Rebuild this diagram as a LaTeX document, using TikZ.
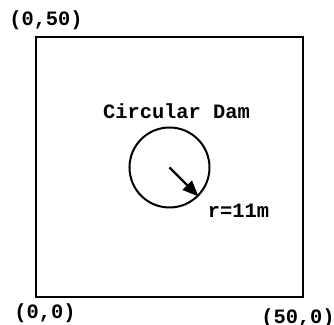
\documentclass[tikz,border=0pt]{standalone}
\usepackage{fontspec}
\setmonofont{Liberation Mono}
\usepackage{tikz}
\usetikzlibrary{positioning,arrows.meta}
\tikzset{
  site/.style={draw, rectangle, line width=1pt, minimum width=133.5pt, minimum height=130pt, inner sep=0pt},
  dam/.style={draw, circle, line width=1pt, minimum size=40pt, inner sep=0pt},
  maplabel/.style={font=\ttfamily\bfseries\fontsize{10.2}{12}\selectfont, inner sep=0pt},
  radius arrow/.style={-{Triangle[length=8pt,width=6.5pt]}, line width=1.1pt}
}

\begin{document}
\begin{tikzpicture}[x=0.5pt, y=-0.5pt]
  \useasboundingbox (0,0) rectangle (334,325);
  \node[site] (site) at (169.5,167) {};
  \node[dam] (dam) at (169.5,167.5) {};

  \node[maplabel] (topleft) at (46,20) {(0,50)};
  \node[maplabel] (origin) at (45,313) {(0,0)};
  \node[maplabel] (bottomright) at (298,318) {(50,0)};
  \node[maplabel] (damname) at (176.5,111) {Circular Dam};
  \node[maplabel] (radius) at (238.5,211) {r=11m};

  \draw[radius arrow] (dam.center) -- (dam.-45);
\end{tikzpicture}
\end{document}
